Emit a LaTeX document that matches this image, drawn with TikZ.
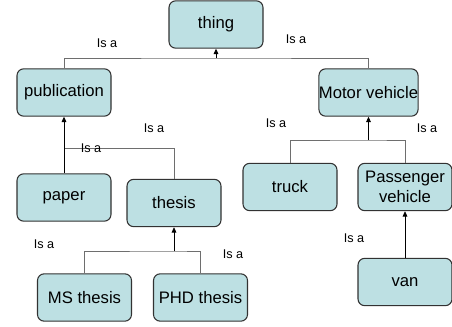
\documentclass[tikz,border=0pt]{standalone}
\usepackage{fontspec}
\setmainfont{Liberation Sans}
\usetikzlibrary{arrows.meta}
\definecolor{boxfill}{RGB}{189,224,227}
\definecolor{boxline}{RGB}{50,50,50}
\definecolor{branch}{RGB}{110,110,110}
\tikzset{
  cls/.style={draw=boxline, fill=boxfill, line width=0.8pt, rounded corners=5pt,
    minimum width=70.5pt, minimum height=35.5pt, inner sep=1pt, align=center,
    font=\fontsize{12.5pt}{14pt}\selectfont},
  isa/.style={font=\fontsize{9.5pt}{11pt}\selectfont, inner sep=0pt},
  branchline/.style={draw=branch, line width=0.6pt},
  up/.style={draw=black, line width=0.6pt, -{Triangle[length=4pt,width=3.5pt]}}
}
\begin{document}
\begin{tikzpicture}[x=0.75pt,y=-0.75pt]
\useasboundingbox (0,0) rectangle (452,326);
\node[cls] (thing) at (216,24.5) {thing};
\node[cls] (pub) at (64,92.5) {publication};
\node[cls, inner sep=0pt] (motor) at (368.5,92.5) {Motor vehicle};
\node[cls] (paper) at (64,197.5) {paper};
\node[cls] (thesis) at (174,203) {thesis};
\node[cls] (ms) at (84.5,297.5) {MS thesis};
\node[cls] (phd) at (200.5,297.5) {PHD thesis};
\node[cls] (truck) at (290,187) {truck};
\node[cls, font=\fontsize{12.5pt}{15pt}\selectfont] (pass) at (405,187) {Passenger\\vehicle};
\node[cls] (van) at (405,282) {van};

\coordinate (j1) at (216,58);
\coordinate (j2) at (64,148);
\coordinate (j3) at (174,251);
\coordinate (j4) at (368.5,140);

\draw[branchline] (pub.north) |- (j1) -| (motor.north);
\draw[up] (j1) -- (thing.south);
\draw[branchline] (thesis.north) |- (j2);
\draw[up] (paper.north) -- (pub.south);
\draw[branchline] (ms.north) |- (j3) -| (phd.north);
\draw[up] (j3) -- (thesis.south);
\draw[branchline] (truck.north) |- (j4) -| (pass.north);
\draw[up] (j4) -- (motor.south);
\draw[up] (van.north) -- (pass.south);

\node[isa] (l1) at (107,43) {Is a};
\node[isa] (l2) at (296,39) {Is a};
\node[isa] (l3) at (154,128) {Is a};
\node[isa] (l4) at (91,148) {Is a};
\node[isa] (l5) at (44,244) {Is a};
\node[isa] (l6) at (233,254) {Is a};
\node[isa] (l7) at (276,123) {Is a};
\node[isa] (l8) at (427,128) {Is a};
\node[isa] (l9) at (354,238) {Is a};
\end{tikzpicture}
\end{document}
